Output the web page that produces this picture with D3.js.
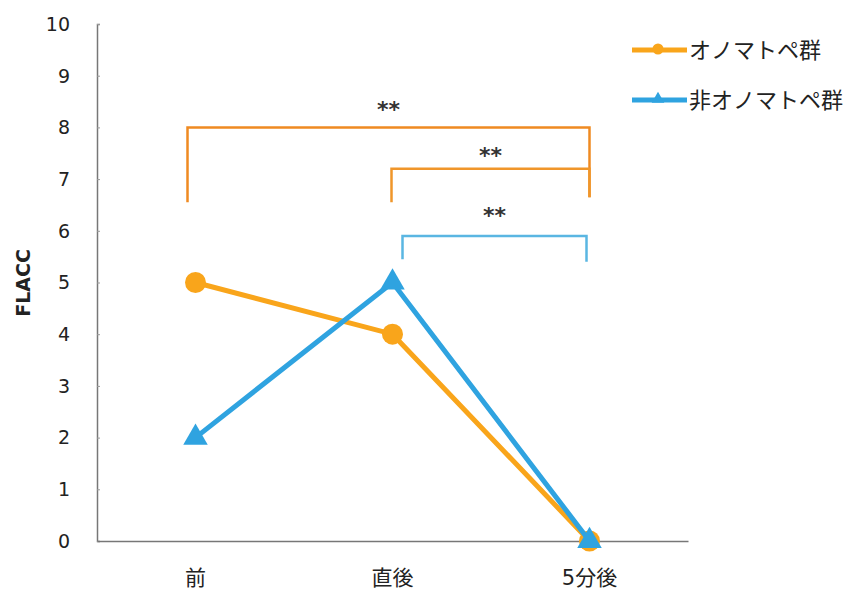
<!DOCTYPE html>
<html>
<head>
<meta charset="utf-8">
<script src="https://cdn.jsdelivr.net/npm/d3@7"></script>
<style>
  html, body { margin: 0; padding: 0; background: #fff; }
  svg { display: block; }
  text { font-family: "DejaVu Sans", "Noto Sans CJK JP", sans-serif; }
</style>
</head>
<body>
<svg id="chart" width="853" height="594"></svg>
<script>
// Time points and FLACC scores per group
const categories = ["前", "直後", "5分後"];
const onomatopeValues = [5, 4, 0];
const nonOnomatopeValues = [2, 5, 0];
const yTicks = [0, 1, 2, 3, 4, 5, 6, 7, 8, 9, 10];
const seriesNames = ["オノマトペ群", "非オノマトペ群"];

// Significance brackets: bar level and where each leg stops
const brackets = [
  { from: "前", to: "5分後", level: 8.0, leftEnd: 6.55, rightEnd: 6.65, offL: -8, offR: 0, gap: 10, color: "#ef8a22", label: "**" },
  { from: "直後", to: "5分後", level: 7.2, leftEnd: 6.55, rightEnd: 6.65, offL: -1, offR: 0, gap: 6, color: "#f0962a", label: "**" },
  { from: "直後", to: "5分後", level: 5.9, leftEnd: 5.45, rightEnd: 5.4, offL: 10, offR: -3, gap: 13, color: "#5ab6e2", label: "**" }
];

const orange = "#f9a51b";
const blue = "#2fa3e0";

const svg = d3.select("#chart");
const x = d3.scalePoint().domain(categories).range([97, 688]).padding(0.5);
const y = d3.scaleLinear().domain([0, 10]).range([541, 24]);

// Axes
const yAxis = svg.append("g").attr("transform", "translate(97,0)")
  .call(d3.axisRight(y).tickValues(yTicks).tickSize(3).tickFormat(""));
yAxis.select(".domain").attr("stroke", "#777").attr("stroke-width", 1.5);
yAxis.selectAll(".tick line").attr("stroke", "#999");

svg.append("g").selectAll("text").data(yTicks).join("text")
  .attr("x", 70).attr("y", d => y(d)).attr("dy", "0.36em")
  .attr("text-anchor", "end").attr("font-size", 19).attr("fill", "#222")
  .text(d => d);

const xAxis = svg.append("g").attr("transform", "translate(0,541)")
  .call(d3.axisBottom(x).tickSize(0).tickFormat(""));
xAxis.select(".domain").attr("stroke", "#777").attr("stroke-width", 1.5);

svg.append("g").selectAll("text").data(categories).join("text")
  .attr("x", d => x(d)).attr("y", 585)
  .attr("text-anchor", "middle").attr("font-size", 21).attr("fill", "#222")
  .text(d => d);

// Y axis title
svg.append("text")
  .attr("transform", "translate(30,283) rotate(-90)")
  .attr("text-anchor", "middle").attr("font-size", 19).attr("font-weight", "bold")
  .attr("fill", "#222").text("FLACC");

// Brackets
brackets.forEach(b => {
  const x1 = x(b.from) + b.offL, x2 = x(b.to) + b.offR;
  svg.append("path")
    .attr("d", `M${x1},${y(b.leftEnd)}V${y(b.level)}H${x2}V${y(b.rightEnd)}`)
    .attr("fill", "none").attr("stroke", b.color).attr("stroke-width", 2.5);
  svg.append("text")
    .attr("x", (x1 + x2) / 2).attr("y", y(b.level) - b.gap)
    .attr("text-anchor", "middle").attr("font-size", 22).attr("font-weight", "bold")
    .attr("fill", "#333").text(b.label);
});

// Lines
const line = d3.line().x((d, i) => x(categories[i])).y(d => y(d));
const tri = d3.symbol().type(d3.symbolTriangle).size(260);

svg.append("path").datum(onomatopeValues)
  .attr("d", line).attr("fill", "none").attr("stroke", orange).attr("stroke-width", 5);
svg.append("g").selectAll("circle").data(onomatopeValues).join("circle")
  .attr("cx", (d, i) => x(categories[i])).attr("cy", d => y(d)).attr("r", 10.5)
  .attr("fill", orange);

svg.append("path").datum(nonOnomatopeValues)
  .attr("d", line).attr("fill", "none").attr("stroke", blue).attr("stroke-width", 5);
svg.append("g").selectAll("path.tri").data(nonOnomatopeValues).join("path")
  .attr("class", "tri")
  .attr("transform", (d, i) => `translate(${x(categories[i])},${y(d)})`)
  .attr("d", tri).attr("fill", blue);

// Legend
const legend = svg.append("g");
const legendItems = [
  { name: seriesNames[0], color: orange, shape: "circle", y: 50 },
  { name: seriesNames[1], color: blue, shape: "triangle", y: 100 }
];
legendItems.forEach(it => {
  legend.append("line").attr("x1", 632).attr("x2", 687).attr("y1", it.y).attr("y2", it.y)
    .attr("stroke", it.color).attr("stroke-width", 5);
  if (it.shape === "circle") {
    legend.append("circle").attr("cx", 658).attr("cy", it.y - 1).attr("r", 5.5).attr("fill", it.color);
  } else {
    legend.append("path").attr("transform", `translate(658,${it.y - 1})`)
      .attr("d", d3.symbol().type(d3.symbolTriangle).size(70)).attr("fill", it.color);
  }
  legend.append("text").attr("x", 689).attr("y", it.y).attr("dy", "0.36em")
    .attr("font-size", 22).attr("fill", "#222").text(it.name);
});
</script>
</body>
</html>
